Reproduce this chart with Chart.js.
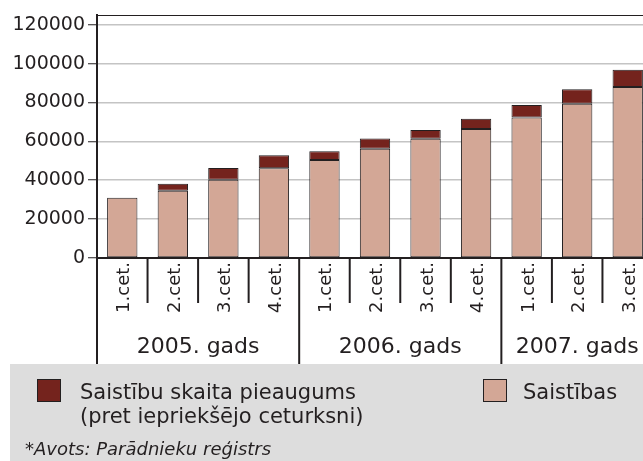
<!DOCTYPE html>
<html>
<head>
<meta charset="utf-8">
<script src="https://cdn.jsdelivr.net/npm/chart.js@4.4.0/dist/chart.umd.min.js"></script>
<style>
  html, body { margin: 0; padding: 0; overflow: hidden; background: #ffffff; }
  #wrap { width: 643px; height: 461px; overflow: hidden; position: relative; }
  canvas { display: block; }
</style>
</head>
<body>
<div id="wrap"><canvas id="c" width="660" height="461"></canvas></div>
<script>
// ---- data ----
const quarters = ['1.cet.', '2.cet.', '3.cet.', '4.cet.', '1.cet.', '2.cet.', '3.cet.', '4.cet.', '1.cet.', '2.cet.', '3.cet.'];
const years = ['2005. gads', '2006. gads', '2007. gads'];
const quartersPerYear = [4, 4, 3];
const saistibas = [31000, 34600, 40300, 46150, 50450, 56150, 61300, 66300, 72300, 79400, 88000];
const pieaugums = [null, 3600, 6000, 6700, 4450, 5300, 4500, 5350, 6400, 7400, 8800];
const yTicks = [0, 20000, 40000, 60000, 80000, 100000, 120000];
const legendLabels = [['Saistību skaita pieaugums', '(pret iepriekšējo ceturksni)'], ['Saistības']];
const footnote = '*Avots: Parādnieku reģistrs';

const INK = '#231f20';
const LIGHT = '#d3a796';
const DARK = '#74231d';
const FONT = '"DejaVu Sans", sans-serif';

const decor = {
  id: 'decor',
  afterDraw(chart) {
    const ctx = chart.ctx;
    const area = chart.chartArea;
    const x = chart.scales.x;
    const n = quarters.length;
    const step = x.getPixelForValue(1) - x.getPixelForValue(0);
    const axisBottom = area.bottom;
    const yearLineEnd = 364;
    const qLineEnd = 303;
    ctx.save();
    // top border
    ctx.strokeStyle = INK;
    ctx.lineWidth = 1;
    ctx.beginPath();
    ctx.moveTo(area.left, area.top + 0.5);
    ctx.lineTo(area.right + 20, area.top + 0.5);
    ctx.stroke();
    // gray band
    ctx.fillStyle = '#dddddd';
    ctx.fillRect(10, yearLineEnd, 700, 200);
    // left axis extension
    ctx.lineWidth = 2;
    ctx.beginPath();
    ctx.moveTo(area.left, axisBottom);
    ctx.lineTo(area.left, yearLineEnd);
    ctx.stroke();
    // dividers
    const yearStarts = [];
    let acc = 0;
    quartersPerYear.forEach(c => { yearStarts.push(acc); acc += c; });
    for (let i = 1; i <= n; i++) {
      const bx = x.getPixelForValue(i - 1) + step / 2;
      const isYear = yearStarts.includes(i) || i === n;
      ctx.beginPath();
      ctx.moveTo(bx, axisBottom);
      ctx.lineTo(bx, isYear ? yearLineEnd : qLineEnd);
      ctx.stroke();
    }
    // quarter labels
    ctx.fillStyle = INK;
    ctx.font = '18px ' + FONT;
    ctx.textAlign = 'right';
    ctx.textBaseline = 'alphabetic';
    quarters.forEach((q, i) => {
      const cx = x.getPixelForValue(i);
      ctx.save();
      ctx.translate(cx + 7, axisBottom + 4);
      ctx.rotate(-Math.PI / 2);
      ctx.fillText(q, 0, 0);
      ctx.restore();
    });
    // year labels
    ctx.font = '22px ' + FONT;
    ctx.textAlign = 'center';
    years.forEach((yl, k) => {
      const s = yearStarts[k];
      const e = s + quartersPerYear[k] - 1;
      const l = x.getPixelForValue(s) - step / 2;
      const r = x.getPixelForValue(e) + step / 2;
      ctx.fillText(yl, (l + r) / 2, 353);
    });
    // legend
    const ds = chart.data.datasets;
    const items = [
      { color: ds[1].backgroundColor, lines: legendLabels[0], bx: 37, tx: 80 },
      { color: ds[0].backgroundColor, lines: legendLabels[1], bx: 483, tx: 523 }
    ];
    ctx.textAlign = 'left';
    ctx.font = '21px ' + FONT;
    items.forEach(it => {
      ctx.fillStyle = it.color;
      ctx.fillRect(it.bx, 379, 24, 23);
      ctx.strokeStyle = INK;
      ctx.lineWidth = 1;
      ctx.strokeRect(it.bx + 0.5, 379.5, 23, 22);
      ctx.fillStyle = INK;
      it.lines.forEach((ln, j) => ctx.fillText(ln, it.tx, 399 + j * 24));
    });
    // footnote
    ctx.font = 'italic 18px ' + FONT;
    ctx.fillText(footnote, 25, 455);
    ctx.restore();
  }
};

new Chart(document.getElementById('c'), {
  type: 'bar',
  data: {
    labels: quarters,
    datasets: [
      { label: 'Saistības', data: saistibas, backgroundColor: LIGHT, borderColor: INK, borderWidth: 1, borderSkipped: false },
      { label: legendLabels[0].join(' '), data: pieaugums, backgroundColor: DARK, borderColor: INK, borderWidth: 1, borderSkipped: false }
    ]
  },
  options: {
    responsive: false,
    animation: false,
    layout: { padding: { top: 15, left: 0, right: 7, bottom: 0 } },
    plugins: { legend: { display: false }, tooltip: { enabled: false } },
    datasets: { bar: { categoryPercentage: 1, barPercentage: 0.6 } },
    scales: {
      x: {
        stacked: true,
        grid: { display: false },
        ticks: { display: false },
        border: { color: INK, width: 2 },
        afterFit(s) { s.height = 461 - 258; }
      },
      y: {
        stacked: true,
        min: 0,
        max: 125000,
        afterFit(s) { s.width = 97; },
        afterBuildTicks(s) { s.ticks = yTicks.map(v => ({ value: v })); },
        ticks: {
          color: INK,
          padding: 3,
          font: { family: 'DejaVu Sans', size: 19 },
          callback: v => String(v)
        },
        grid: { color: '#c4c4c4', lineWidth: 1.5, tickColor: INK, tickLength: 9, tickWidth: 1 },
        border: { color: INK, width: 2 }
      }
    }
  },
  plugins: [decor]
});
</script>
</body>
</html>
